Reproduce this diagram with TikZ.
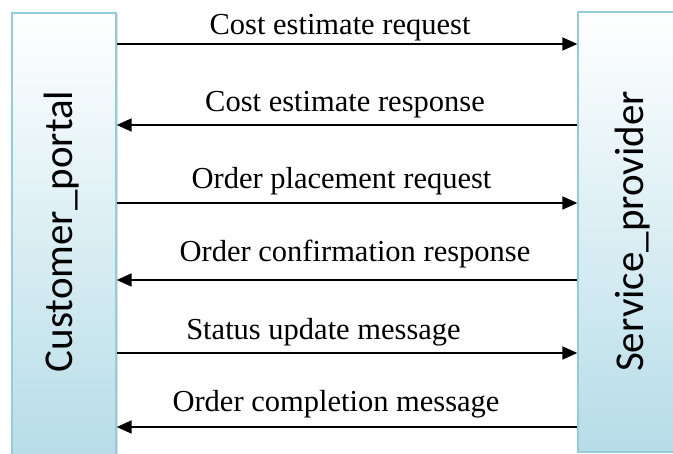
\documentclass[tikz,border=0pt]{standalone}
\usepackage{fontspec}
\setmainfont{Liberation Serif}
\newfontfamily\lanefont{Carlito}
\usetikzlibrary{arrows.meta,shadows}

\definecolor{laneedge}{RGB}{146,205,222}
\definecolor{lanefill}{RGB}{182,221,232}

\tikzset{
  lane/.style={draw=laneedge, line width=1.3pt, rectangle, inner sep=0pt,
    top color=white, bottom color=lanefill,
    drop shadow={shadow xshift=1.5pt, shadow yshift=-1.5pt, opacity=.25}},
  lanelabel/.style={font=\lanefont\fontsize{41}{45}\selectfont, rotate=90,
    anchor=base, inner sep=0pt},
  msg/.style={line width=1.8pt, -{Triangle[length=15pt,width=13pt]}},
  msglabel/.style={font=\fontsize{30.5}{34}\selectfont, anchor=base, inner sep=0pt}
}

\begin{document}
\begin{tikzpicture}[x=1pt,y=-1pt]
  \useasboundingbox (0,0) rectangle (673,454);

  % the two parties
  \node[lane, minimum width=104pt, minimum height=447pt] (cp) at (64,236.5) {};
  \node[lane, minimum width=100pt, minimum height=440pt] (sp) at (628,232) {};
  \node[lanelabel] (cpl) at (72,231.5) {Customer\_portal};
  \node[lanelabel] (spl) at (643,231.5) {Service\_provider};

  % message exchange
  \draw[msg] (cp.east |- 0,44)  -- (sp.west |- 0,44);
  \draw[msg] (sp.west |- 0,125) -- (cp.east |- 0,125);
  \draw[msg] (cp.east |- 0,203) -- (sp.west |- 0,203);
  \draw[msg] (sp.west |- 0,280) -- (cp.east |- 0,280);
  \draw[msg] (cp.east |- 0,353) -- (sp.west |- 0,353);
  \draw[msg] (sp.west |- 0,427) -- (cp.east |- 0,427);

  \node[msglabel] (m1) at (340,35)  {Cost estimate request};
  \node[msglabel] (m2) at (345,112) {Cost estimate response};
  \node[msglabel] (m3) at (341.5,189) {Order placement request};
  \node[msglabel] (m4) at (355,262) {Order confirmation response};
  \node[msglabel] (m5) at (323.5,340) {Status update message};
  \node[msglabel] (m6) at (336,412) {Order completion message};
\end{tikzpicture}
\end{document}
